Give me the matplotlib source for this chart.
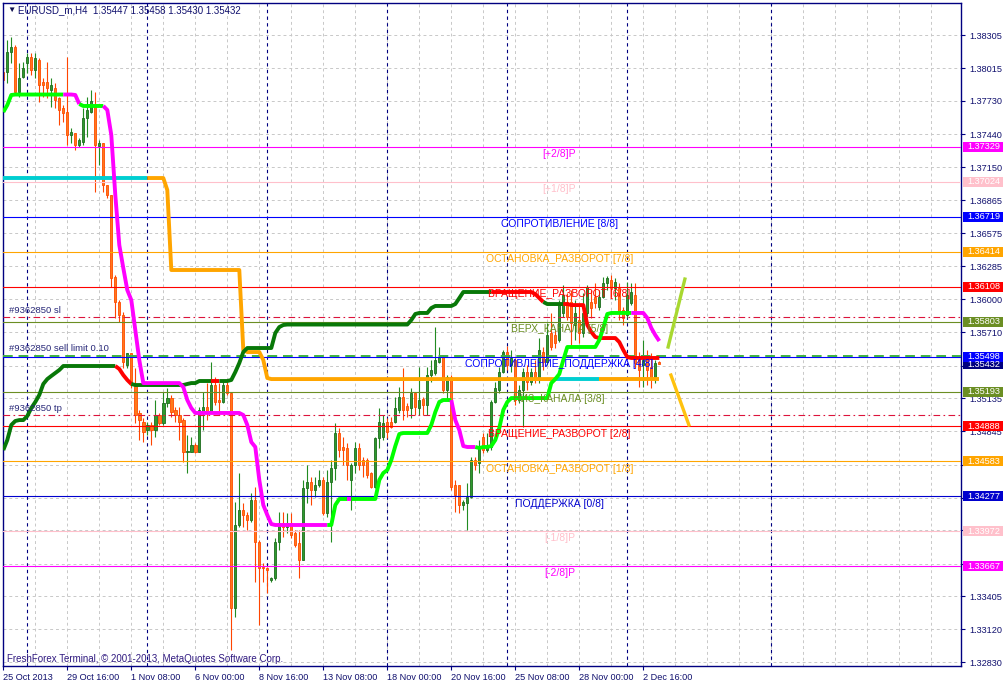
import matplotlib
matplotlib.use('Agg')
import matplotlib.pyplot as plt
from matplotlib.patches import Rectangle
from matplotlib.transforms import blended_transform_factory

plt.rcParams['font.family'] = ['Liberation Sans', 'DejaVu Sans']

# EURUSD_m H4 candles, bar 0 = 25 Oct 2013 00:00
opens = [
    1.37982, 1.37982, 1.38157, 1.38201, 1.37808, 1.37939, 1.38061, 1.38113, 1.38000, 1.38087,
    1.37895, 1.37895, 1.37825, 1.37843, 1.37755, 1.37668, 1.37633, 1.37432, 1.37450, 1.37345,
    1.37371, 1.37581, 1.37633, 1.37694, 1.37336, 1.37363, 1.36996, 1.36909, 1.36193, 1.35975,
    1.35861, 1.35425, 1.35529, 1.35250, 1.35006, 1.34927, 1.34857, 1.34901, 1.34857, 1.34988,
    1.34918, 1.35093, 1.35136, 1.35032, 1.34988, 1.34944, 1.34665, 1.34665, 1.34726, 1.34665,
    1.35014, 1.35058, 1.35006, 1.35250, 1.35119, 1.35102, 1.35250, 1.35180, 1.33303, 1.34028,
    1.34159, 1.34115, 1.34071, 1.34246, 1.33879, 1.33661, 1.33652, 1.33548, 1.33565, 1.33879,
    1.34045, 1.34010, 1.34045, 1.33958, 1.33871, 1.33722, 1.34351, 1.34403, 1.34333, 1.34377,
    1.34421, 1.34133, 1.34403, 1.34525, 1.34831, 1.34709, 1.34700, 1.34421, 1.34552, 1.34700,
    1.34595, 1.34595, 1.34482, 1.34359, 1.34787, 1.34796, 1.34927, 1.34927, 1.34927, 1.35032,
    1.35145, 1.35067, 1.35049, 1.35180, 1.35049, 1.35128, 1.35075, 1.35337, 1.35355, 1.35451,
    1.35494, 1.35206, 1.35320, 1.34377, 1.34377, 1.34202, 1.34220, 1.34272, 1.34595, 1.34569,
    1.34796, 1.34682, 1.34709, 1.35102, 1.35206, 1.35363, 1.35538, 1.35425, 1.35468, 1.35119,
    1.35206, 1.35363, 1.35276, 1.35363, 1.35294, 1.35538, 1.35451, 1.35704, 1.35686, 1.35643,
    1.35879, 1.35975, 1.35975, 1.35774, 1.35817, 1.35704, 1.35879, 1.35975, 1.36018, 1.35931,
    1.36018, 1.36140, 1.36167, 1.36097, 1.36097, 1.35905, 1.35861, 1.35966, 1.36036, 1.35486,
    1.35425, 1.35486, 1.35407, 1.35320, 1.35447]
highs = [
    1.38017, 1.38262, 1.38288, 1.38218, 1.38061, 1.38070, 1.38148, 1.38148, 1.38148, 1.38105,
    1.37930, 1.38070, 1.37930, 1.37886, 1.37764, 1.37694, 1.38113, 1.37494, 1.37450, 1.37406,
    1.37668, 1.37764, 1.37825, 1.37808, 1.37389, 1.37363, 1.36996, 1.36909, 1.36210, 1.35992,
    1.35887, 1.35529, 1.35529, 1.35398, 1.35032, 1.34962, 1.34927, 1.34927, 1.35119, 1.35006,
    1.35189, 1.35224, 1.35163, 1.35058, 1.35058, 1.34962, 1.34813, 1.34796, 1.34744, 1.35058,
    1.35189, 1.35267, 1.35451, 1.35320, 1.35267, 1.35276, 1.35276, 1.35189, 1.34229, 1.34482,
    1.34220, 1.34141, 1.34307, 1.34359, 1.33897, 1.33696, 1.33661, 1.33574, 1.33914, 1.34141,
    1.34141, 1.34133, 1.34133, 1.33984, 1.33984, 1.34421, 1.34552, 1.34447, 1.34447, 1.34508,
    1.34447, 1.34508, 1.34595, 1.34918, 1.34875, 1.34796, 1.34744, 1.34569, 1.34752, 1.34744,
    1.34621, 1.34613, 1.34490, 1.34796, 1.35049, 1.34988, 1.34962, 1.34971, 1.35145, 1.35232,
    1.35398, 1.35093, 1.35224, 1.35180, 1.35407, 1.35145, 1.35407, 1.35468, 1.35756, 1.35582,
    1.35512, 1.35337, 1.35337, 1.34421, 1.34377, 1.34246, 1.34394, 1.34621, 1.34621, 1.34770,
    1.34831, 1.34831, 1.35119, 1.35276, 1.35407, 1.35555, 1.35590, 1.35555, 1.35486, 1.35250,
    1.35398, 1.35425, 1.35398, 1.35468, 1.35660, 1.35582, 1.35791, 1.35879, 1.35730, 1.35992,
    1.36123, 1.36053, 1.36079, 1.35992, 1.35948, 1.36053, 1.36123, 1.36079, 1.36140, 1.36079,
    1.36193, 1.36202, 1.36210, 1.36184, 1.36140, 1.35931, 1.36149, 1.36140, 1.36140, 1.35538,
    1.35643, 1.35555, 1.35529, 1.35468, 1.35458]
lows = [
    1.37825, 1.37886, 1.38061, 1.37782, 1.37764, 1.37930, 1.37974, 1.37956, 1.37930, 1.37721,
    1.37764, 1.37755, 1.37677, 1.37668, 1.37520, 1.37546, 1.37345, 1.37363, 1.37301, 1.37328,
    1.37345, 1.37415, 1.37624, 1.36935, 1.37171, 1.36935, 1.36882, 1.36106, 1.35835, 1.35800,
    1.35398, 1.35398, 1.35224, 1.34918, 1.34770, 1.34752, 1.34813, 1.34726, 1.34796, 1.34901,
    1.34901, 1.35058, 1.34971, 1.34927, 1.34770, 1.34578, 1.34482, 1.34665, 1.34656, 1.34665,
    1.34857, 1.34944, 1.35006, 1.35075, 1.34988, 1.35093, 1.35163, 1.32936, 1.33225, 1.34010,
    1.34010, 1.33984, 1.34054, 1.33530, 1.33155, 1.33530, 1.33434, 1.33530, 1.33548, 1.33809,
    1.33923, 1.33958, 1.33914, 1.33836, 1.33565, 1.33722, 1.34220, 1.34202, 1.34272, 1.34359,
    1.34115, 1.34098, 1.33879, 1.34421, 1.34621, 1.34552, 1.34421, 1.34159, 1.34482, 1.34508,
    1.34447, 1.34438, 1.34351, 1.34351, 1.34700, 1.34770, 1.34787, 1.34875, 1.34918, 1.35006,
    1.34944, 1.34971, 1.34962, 1.34988, 1.34988, 1.34988, 1.34988, 1.35276, 1.35337, 1.35442,
    1.35180, 1.35119, 1.34333, 1.34141, 1.34133, 1.34159, 1.33984, 1.34264, 1.34508, 1.34482,
    1.34656, 1.34665, 1.34682, 1.35093, 1.35180, 1.35355, 1.35381, 1.35363, 1.35075, 1.35093,
    1.34883, 1.35206, 1.35250, 1.35267, 1.35267, 1.35381, 1.35425, 1.35555, 1.35573, 1.35625,
    1.35844, 1.35817, 1.35599, 1.35643, 1.35617, 1.35669, 1.35844, 1.35835, 1.35922, 1.35905,
    1.36009, 1.36079, 1.36018, 1.35992, 1.35817, 1.35774, 1.35835, 1.35948, 1.35398, 1.35232,
    1.35232, 1.35250, 1.35224, 1.35267, 1.35430]
closes = [
    1.37913, 1.38157, 1.38201, 1.37808, 1.37930, 1.38017, 1.38113, 1.38000, 1.38105, 1.37869,
    1.37869, 1.37843, 1.37869, 1.37738, 1.37651, 1.37624, 1.37432, 1.37459, 1.37345, 1.37389,
    1.37581, 1.37651, 1.37729, 1.37345, 1.37363, 1.36996, 1.36909, 1.36184, 1.35975, 1.35861,
    1.35451, 1.35529, 1.35250, 1.34988, 1.34944, 1.34840, 1.34901, 1.34857, 1.34988, 1.34918,
    1.35093, 1.35136, 1.35014, 1.34988, 1.34927, 1.34665, 1.34674, 1.34726, 1.34665, 1.35032,
    1.35058, 1.35014, 1.35250, 1.35102, 1.35102, 1.35250, 1.35180, 1.33303, 1.34028, 1.34159,
    1.34115, 1.34071, 1.34246, 1.33879, 1.33652, 1.33652, 1.33635, 1.33565, 1.33879, 1.34045,
    1.34010, 1.34045, 1.33940, 1.33853, 1.33722, 1.34351, 1.34403, 1.34333, 1.34377, 1.34421,
    1.34133, 1.34403, 1.34525, 1.34831, 1.34682, 1.34682, 1.34552, 1.34552, 1.34700, 1.34552,
    1.34552, 1.34464, 1.34359, 1.34787, 1.34927, 1.34918, 1.34840, 1.34884, 1.35049, 1.35145,
    1.35032, 1.35032, 1.35180, 1.35058, 1.35119, 1.35075, 1.35337, 1.35381, 1.35468, 1.35494,
    1.35206, 1.35320, 1.34359, 1.34290, 1.34202, 1.34229, 1.34272, 1.34595, 1.34552, 1.34709,
    1.34682, 1.34709, 1.35102, 1.35224, 1.35363, 1.35538, 1.35425, 1.35486, 1.35119, 1.35206,
    1.35363, 1.35276, 1.35363, 1.35294, 1.35555, 1.35451, 1.35686, 1.35582, 1.35617, 1.35966,
    1.36036, 1.35844, 1.35791, 1.35879, 1.35704, 1.35879, 1.36106, 1.35922, 1.35966, 1.36018,
    1.36140, 1.36184, 1.36097, 1.36149, 1.35879, 1.35835, 1.36036, 1.36062, 1.35442, 1.35381,
    1.35468, 1.35381, 1.35320, 1.35442, 1.35432]

# fast trailing line (lime up / magenta down)
fast_line = ([1.37633, 1.37694, 1.37782] + [1.37786] * 13 +
             [1.37786, 1.37786, 1.37782, 1.37703] + [1.37686] * 6 +
             [1.37651, 1.37432, 1.36909, 1.36472, 1.36271, 1.36079, 1.35992, 1.35730, 1.35468] +
             [1.35267] * 10 + [1.35232, 1.35119, 1.35049] + [1.35006] * 12 +
             [1.34988, 1.34901, 1.34752, 1.34709, 1.34421, 1.34202, 1.34115, 1.34036] +
             [1.34028] * 14 + [1.34028, 1.34202] + [1.34255] * 10 +
             [1.34421, 1.34482, 1.34508, 1.34595, 1.34717, 1.34822] + [1.34831] * 7 +
             [1.34901, 1.35014, 1.35102] + [1.35119] * 3 + [1.34944, 1.34857, 1.34717] +
             [1.34709] * 3 + [1.34700, 1.34709, 1.34709] +
             [1.34717, 1.34770, 1.34875, 1.35032, 1.35102] + [1.35136] * 10 +
             [1.35267, 1.35302, 1.35346, 1.35468] + [1.35582] * 8 +
             [1.35643, 1.35748, 1.35870] + [1.35879] * 9 +
             [1.35835, 1.35748, 1.35686, 1.35634])
fast_trend = ([1] * 16 + [-1] * 4 + [1] * 6 + [-1] * 56 + [1] * 5 + [-1] * 1 +
              [1] * 25 + [-1] * 6 + [1] * 39 + [-1] * 7)

# slow trailing line (dark green up / red down)
slow_line = ([1.34682, 1.34770, 1.34901, 1.34936, 1.34944, 1.34944, 1.34979, 1.35049,
              1.35102, 1.35163, 1.35259, 1.35302, 1.35329, 1.35355, 1.35381] + [1.35416] * 14 +
             [1.35390, 1.35337, 1.35294, 1.35259] + [1.35250] * 13 +
             [1.35259, 1.35267, 1.35267] + [1.35285] * 8 +
             [1.35294, 1.35363, 1.35442, 1.35538] + [1.35573] * 7 +
             [1.35704, 1.35756, 1.35774] + [1.35778] * 31 + [1.35817, 1.35870] +
             [1.35879] * 3 + [1.35922] + [1.35940] * 5 + [1.35957, 1.36009] + [1.36062] * 18 +
             [1.36044, 1.36009, 1.35975] + [1.35957] * 6 + [1.35948] * 4 +
             [1.35774, 1.35713, 1.35669] + [1.35660] * 5 + [1.35625, 1.35555, 1.35494] +
             [1.35486] * 8)
slow_trend = [1] * 29 + [-1] * 4 + [1] * 20 + [-1] * 2 + [1] * 68 + [-1] * 13 + [1] * 5 + [-1] * 24

# third step line (cyan / orange)
step_line = ([1.37057] * 41 + [1.36952] + [1.36254] * 18 + [1.35555] + [1.35538] * 4 +
             [1.35468, 1.35311] + [1.35302] * 98)
step_state = [1] * 37 + [0] * 102 + [1] * 11 + [0] * 15

murrey_levels = [1.37329, 1.37024, 1.36719, 1.36414, 1.36108, 1.35803, 1.35498,
                 1.35193, 1.34888, 1.34583, 1.34277, 1.33972, 1.33667]
murrey_names = ['[+2/8]P', '[+1/8]P', 'СОПРОТИВЛЕНИЕ [8/8]', 'ОСТАНОВКА_РАЗВОРОТ [7/8]',
                'ВРАЩЕНИЕ_РАЗВОРОТ [6/8]', 'ВЕРХ_КАНАЛА [5/8]', 'СОПРОТИВЛЕНИЕ_ПОДДЕРЖКА [4/8]',
                'НИЗ_КАНАЛА [3/8]', 'ВРАЩЕНИЕ_РАЗВОРОТ [2/8]', 'ОСТАНОВКА_РАЗВОРОТ [1/8]',
                'ПОДДЕРЖКА [0/8]', '[-1/8]P', '[-2/8]P']
murrey_colors = ['#FF00FF', '#FFC0CB', '#0000FF', '#FFA500', '#FF0000', '#6B8E23', '#0000FF',
                 '#6B8E23', '#FF0000', '#FFA500', '#0000CD', '#FFC0CB', '#FF00FF']

order_sl = 1.35840
order_entry = 1.35505
order_tp = 1.34985
last_price = 1.35432

proj_up_x = [166.2, 170.4]
proj_up_y = [1.35582, 1.36175]
proj_dn_x = [166.9, 171.4]
proj_dn_y = [1.35337, 1.34901]

week_starts = [6, 36, 66, 96, 126, 156, 192]
x_ticks = [0, 16, 32, 48, 64, 80, 96, 112, 128, 144, 160]
x_labels = ['25 Oct 2013', '29 Oct 16:00', '1 Nov 08:00', '6 Nov 00:00', '8 Nov 16:00',
            '13 Nov 08:00', '18 Nov 00:00', '20 Nov 16:00', '25 Nov 08:00', '28 Nov 00:00',
            '2 Dec 16:00']
y_ticks = [1.38305, 1.38015, 1.37730, 1.37440, 1.37150, 1.36865, 1.36575, 1.36285, 1.36000,
           1.35710, 1.35420, 1.35135, 1.34845, 1.34555, 1.34265, 1.33980, 1.33690, 1.33405,
           1.33120, 1.32830]
# scale labels that sit fully under a price box
hidden_ticks = [1.35420, 1.34555, 1.34265, 1.33980]

navy = '#000080'
txt = '#10106E'

fig = plt.figure(figsize=(10.04, 6.84), dpi=100)
ax = fig.add_axes([3 / 1004, 18 / 684, 958 / 1004, 663 / 684])
ax.set_xlim(-0.075, 239.425)
ax.set_ylim(1.32797, 1.38585)

# grid
for gx in range(8, 240, 8):
    ax.axvline(gx, color='#C8C8C8', lw=0.7, ls=(0, (3, 3)), zorder=0)
for gy in y_ticks:
    ax.axhline(gy, color='#C8C8C8', lw=0.7, ls=(0, (3, 3)), zorder=0)
for wx in week_starts:
    ax.axvline(wx, color=navy, lw=0.8, ls=(0, (3, 3)), zorder=1)

# candles
for i in range(len(opens)):
    o, h, l, c = opens[i], highs[i], lows[i], closes[i]
    bull = c >= o
    wick = '#228B22' if bull else '#FF4500'
    face = '#2E9B2E' if bull else '#FF7A1A'
    edge = '#1E6B1E' if bull else '#FF4A00'
    ax.vlines(i, l, h, color=wick, lw=0.8, zorder=2)
    ax.bar(i, max(abs(c - o), 0.00009), bottom=min(o, c), width=0.6,
           color=face, edgecolor=edge, linewidth=0.6, zorder=2.5)

# murrey levels
for lv, name, col in zip(murrey_levels, murrey_names, murrey_colors):
    ax.axhline(lv, color=col, lw=0.8, zorder=3)
    ax.annotate(name, (139, lv), xytext=(0, -1.5), textcoords='offset points',
                ha='center', va='top', color=col, fontsize=7.5, zorder=6)

# order lines
ax.axhline(order_sl, color='#DC143C', lw=0.8, ls=(0, (6, 3, 1.5, 3)), zorder=3)
ax.axhline(order_tp, color='#DC143C', lw=0.8, ls=(0, (6, 3, 1.5, 3)), zorder=3)
ax.axhline(order_entry, color='#3CB043', lw=1.4, ls=(0, (5, 3)), zorder=3)
for lv, lab in [(order_sl, '#9362850 sl'), (order_entry, '#9362850 sell limit 0.10'),
                (order_tp, '#9362850 tp')]:
    ax.annotate(lab, (1.5, lv), xytext=(0, 2), textcoords='offset points',
                ha='left', va='bottom', color='#282878', fontsize=6.8, zorder=6)


def draw_runs(values, states, colors):
    n = len(values)
    start = 0
    for i in range(1, n + 1):
        if i == n or states[i] != states[start]:
            a = max(start - 1, 0)
            ax.plot(range(a, i), values[a:i], color=colors[states[start]], lw=2.8,
                    solid_capstyle='butt', solid_joinstyle='round', zorder=4)
            start = i


draw_runs(step_line, step_state, {1: '#00CED1', 0: '#FFA500'})
draw_runs(slow_line, slow_trend, {1: '#087808', -1: '#FF0000'})
draw_runs(fast_line, fast_trend, {1: '#00FF00', -1: '#FF00FF'})

ax.plot(proj_up_x, proj_up_y, color='#A8D830', lw=2.4, zorder=4)
ax.plot(proj_dn_x, proj_dn_y, color='#FFC20E', lw=2.4, zorder=4)

# axes styling
for s in ax.spines.values():
    s.set_color(navy)
    s.set_linewidth(1.0)
ax.yaxis.tick_right()
ax.set_yticks(y_ticks)
ax.set_yticklabels(['' if v in hidden_ticks else '%.5f' % v for v in y_ticks])
ax.set_xticks(x_ticks)
ax.set_xticklabels(x_labels)
for lbl in ax.get_xticklabels():
    lbl.set_ha('left')
ax.tick_params(axis='y', direction='out', length=3, color=navy, labelsize=6.6,
               labelcolor=txt, pad=3)
ax.tick_params(axis='x', direction='out', length=3, color=navy, labelsize=6.6,
               labelcolor=txt, pad=2)

# price boxes on the right scale
bt = blended_transform_factory(fig.transFigure, ax.transData)
box_h = 0.00087
boxes = [(lv, col) for lv, col in zip(murrey_levels, murrey_colors)]
boxes.insert(7, (last_price, navy))
boxes_order = [b for b in boxes if b[0] != 1.35498] + [(1.35498, '#0000FF')]
for lv, col in boxes_order:
    ax.add_patch(Rectangle((963 / 1004, lv - box_h / 2), 41 / 1004, box_h, transform=bt,
                           facecolor=col, edgecolor='none', clip_on=False, zorder=7))
    ax.text(983.5 / 1004, lv, '%.5f' % lv, transform=bt, ha='center', va='center',
            color='white', fontsize=6.6, clip_on=False, zorder=8)

# header and copyright
fig.text(7 / 1004, 1 - 10 / 684, '▼', fontsize=6, color='#101050', va='center', ha='left')
fig.text(18 / 1004, 1 - 10 / 684, 'EURUSD_m,H4  1.35447 1.35458 1.35430 1.35432',
         fontsize=7, color=txt, va='center', ha='left')
fig.text(7 / 1004, 1 - 659 / 684, 'FreshForex Terminal, © 2001-2013, MetaQuotes Software Corp.',
         fontsize=7, color='#301A80', va='center', ha='left')

fig.savefig('out.png', dpi=100, facecolor='white')
